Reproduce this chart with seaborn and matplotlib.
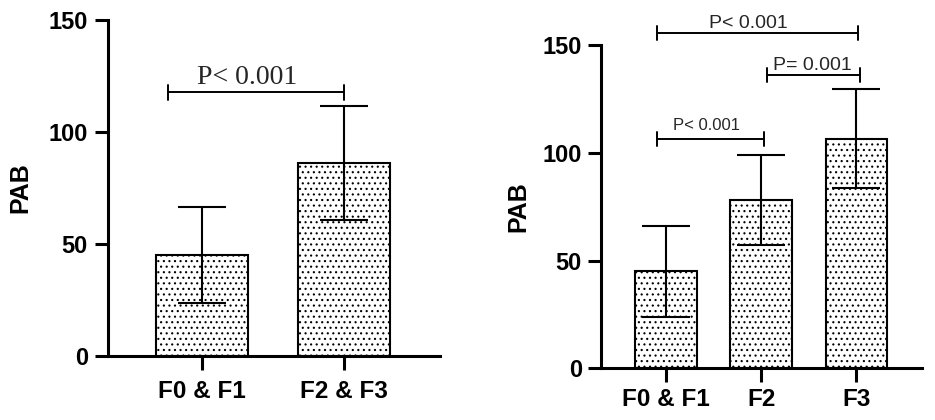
import matplotlib
matplotlib.use("Agg")
import matplotlib.pyplot as plt
import seaborn as sns
import pandas as pd


# Data

left_groups = ["F0 & F1", "F2 & F3"]
left_mean = [45, 86]
left_sd = [21.5, 25.5]

right_groups = ["F0 & F1", "F2", "F3"]
right_mean = [45, 78, 106.5]
right_sd = [21, 21, 23]

# p-value brackets: (x start, x end, height, label, label x, label y)
left_pvals = [(-0.24, 1.0, 117.7, "P< 0.001", 0.315, 121.5)]
right_pvals = [
    (-0.10, 2.02, 155.4, "P< 0.001", 0.86, 157.8),
    (1.06, 2.04, 136.0, "P= 0.001", 1.54, 138.6),
    (-0.10, 1.03, 106.4, "P< 0.001", 0.425, 110.5),
]

yticks = [0, 50, 100, 150]


sns.set_theme(style="ticks")
plt.rcParams["font.family"] = ["Liberation Sans", "DejaVu Sans"]
plt.rcParams["hatch.linewidth"] = 0.8


def draw_panel(ax, groups, mean, sd, pvals, xlim, p_size, p_family,
               tick_pad_y, tick_pad_x):

    df = pd.DataFrame({"group": groups, "mean": mean, "sd": sd})

    sns.barplot(
        data=df,
        x="group",
        y="mean",
        color="white",
        edgecolor="black",
        linewidth=1.5,
        width=0.65,
        hatch="...",
        errorbar=None,
        ax=ax
    )

    ax.errorbar(
        range(len(groups)),
        df["mean"],
        yerr=df["sd"],
        fmt="none",
        ecolor="black",
        elinewidth=1.5,
        capsize=17,
        capthick=1.5
    )

    for x0, x1, y, label, tx, ty in pvals:
        ax.plot([x0, x1], [y, y], color="black", lw=1.4, clip_on=False)
        for xe in (x0, x1):
            ax.plot([xe, xe], [y - 3.2, y + 3.2], color="black", lw=1.4,
                    clip_on=False)
        ax.text(tx, ty, label, ha="center", va="baseline",
                fontsize=p_size, family=p_family, fontweight="normal")

    ax.set_xlim(*xlim)
    ax.set_ylim(0, 150)
    ax.set_yticks(yticks)

    sns.despine(ax=ax)
    for side in ["left", "bottom"]:
        ax.spines[side].set_linewidth(2.2)
        ax.spines[side].set_color("black")

    ax.tick_params(axis="y", width=2.2, length=9.5, labelsize=17,
                   pad=tick_pad_y, colors="black")
    ax.tick_params(axis="x", width=2.2, length=10, labelsize=17.5,
                   pad=tick_pad_x, colors="black")

    for lbl in ax.get_xticklabels() + ax.get_yticklabels():
        lbl.set_fontweight("bold")

    ax.set_xlabel("")
    ax.set_ylabel("PAB", fontsize=18, fontweight="bold", color="black")


fig = plt.figure(figsize=(9.35, 4.2), dpi=100)

ax1 = fig.add_axes([0.1155, 0.1524, 0.3551, 0.8])
ax2 = fig.add_axes([0.6425, 0.1231, 0.3433, 0.7698])

draw_panel(ax1, left_groups, left_mean, left_sd, left_pvals,
           (-0.66, 1.675), 20, "Liberation Serif", 5, 7)

draw_panel(ax2, right_groups, right_mean, right_sd, right_pvals,
           (-0.686, 2.685), 14, "Liberation Sans", 4, 4)

ax2.texts[-1].set_fontsize(12)

ax1.yaxis.set_label_coords(-0.229, 0.5)
ax2.yaxis.set_label_coords(-0.220, 0.5)

fig.savefig("out.png", dpi=100, facecolor="white")
plt.close()
